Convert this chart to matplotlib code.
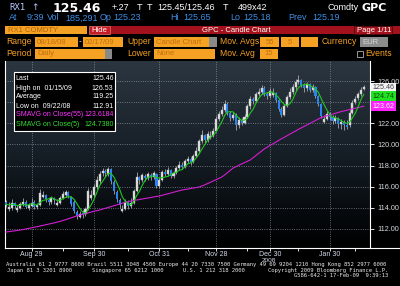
# Bloomberg GPC candle chart of the Euro-Bund future (RX1), redrawn with matplotlib

import numpy as np
import pandas as pd
import matplotlib
matplotlib.use("Agg")
import matplotlib.pyplot as plt
from matplotlib.colors import LinearSegmentedColormap
from matplotlib.patches import Rectangle
from matplotlib.lines import Line2D

W, H = 400, 286

# daily candles, 18 Aug 2008 .. 17 Feb 2009
opens = [114.6, 113.9, 114.0, 114.5, 113.8, 114.0, 114.3, 114.6, 114.0, 114.2,
         114.6, 114.1, 114.3, 115.0, 115.2, 114.7, 114.6, 114.9, 114.3, 114.5,
         114.9, 115.2, 115.5, 115.0, 114.6, 113.6, 113.1, 113.5, 113.4, 113.9,
         114.9, 115.2, 116.0, 116.5, 117.3, 117.5, 117.2, 117.7, 116.4, 115.5,
         114.7, 113.7, 113.9, 114.6, 114.2, 114.5, 115.6, 116.9, 116.6, 117.0,
         116.8, 117.1, 116.9, 117.2, 116.1, 116.6, 117.4, 117.2, 117.6, 117.0,
         117.3, 117.8, 118.1, 117.9, 118.4, 118.6, 118.3, 118.9, 119.4, 120.3,
         120.9, 120.4, 120.6, 120.8, 121.3, 122.4, 122.9, 123.3, 123.8, 123.0,
         122.5, 122.8, 121.8, 122.3, 122.0, 122.6, 123.6, 124.3, 124.1, 124.8,
         125.0, 125.3, 124.8, 124.6, 124.7, 124.9, 124.2, 123.4, 122.8, 123.6,
         124.5, 125.0, 125.4, 125.9, 126.1, 125.6, 125.3, 125.7, 125.2, 125.4,
         124.6, 123.8, 122.1, 122.4, 122.9, 122.6, 122.2, 122.5, 121.9, 122.1,
         121.8, 121.8, 123.0, 124.0, 124.4, 124.8, 125.23]
highs = [114.7, 114.6, 114.8, 114.6, 114.3, 114.6, 114.9, 114.7, 114.5, 114.9,
         114.7, 114.5, 115.8, 115.6, 115.3, 114.9, 115.1, 115.0, 114.8, 115.1,
         115.6, 115.7, 115.6, 115.1, 114.7, 113.8, 113.7, 113.8, 114.1, 115.9,
         115.7, 116.3, 117.0, 117.5, 117.8, 117.7, 117.9, 117.8, 116.6, 115.7,
         114.9, 114.3, 114.8, 114.7, 114.9, 115.8, 117.4, 117.0, 117.3, 117.2,
         117.4, 117.3, 117.5, 117.3, 116.9, 117.6, 117.7, 117.9, 117.7, 117.5,
         118.0, 118.4, 118.3, 118.6, 118.9, 118.8, 119.1, 119.8, 120.5, 121.4,
         121.0, 121.3, 121.3, 121.6, 122.7, 123.2, 123.6, 124.2, 124.0, 123.2,
         123.1, 123.0, 122.6, 122.5, 122.9, 123.8, 124.6, 124.5, 125.0, 125.3,
         125.6, 125.5, 125.0, 125.3, 125.3, 125.0, 124.3, 123.5, 123.8, 124.7,
         125.3, 125.7, 126.2, 126.53, 126.2, 125.8, 125.9, 125.8, 125.7, 125.5,
         124.7, 123.9, 122.8, 123.2, 123.1, 122.8, 122.8, 122.6, 122.4, 122.3,
         122.3, 123.3, 124.2, 124.6, 125.0, 125.4, 125.65]
lows = [114.1, 113.7, 113.8, 114.0, 113.6, 113.9, 114.2, 114.0, 113.8, 114.1,
        113.9, 113.9, 114.2, 114.9, 114.6, 114.3, 114.4, 114.4, 114.2, 114.4,
        114.8, 115.0, 114.9, 114.2, 113.5, 112.91, 113.0, 113.0, 113.2, 113.8,
        114.7, 115.0, 115.8, 116.3, 117.0, 116.9, 117.0, 116.3, 115.3, 114.6,
        114.0, 113.6, 113.8, 113.9, 114.0, 114.4, 115.5, 116.3, 116.4, 116.5,
        116.6, 116.6, 116.7, 115.9, 115.9, 116.5, 117.0, 117.0, 116.8, 116.8,
        117.2, 117.6, 117.7, 117.8, 118.2, 118.1, 118.2, 118.8, 119.2, 120.1,
        120.1, 120.2, 120.5, 120.7, 121.2, 122.2, 122.7, 123.1, 122.8, 122.2,
        122.3, 121.4, 121.6, 121.8, 121.9, 122.5, 123.4, 123.8, 124.0, 124.6,
        124.8, 124.6, 124.3, 124.4, 124.5, 124.0, 123.2, 122.6, 122.7, 123.5,
        124.3, 124.8, 125.2, 125.7, 125.4, 125.0, 125.1, 125.0, 125.0, 124.4,
        123.6, 122.5, 122.0, 122.3, 122.3, 121.9, 122.0, 121.6, 121.5, 121.4,
        121.5, 121.7, 122.9, 123.8, 124.2, 124.6, 125.18]
closes = [114.3, 114.1, 114.5, 114.2, 114.0, 114.4, 114.6, 114.1, 114.3, 114.5,
          114.1, 114.3, 115.4, 115.2, 114.8, 114.6, 114.9, 114.7, 114.5, 114.9,
          115.3, 115.5, 115.1, 114.4, 113.7, 113.2, 113.4, 113.3, 113.9, 115.6,
          115.2, 116.0, 116.6, 117.2, 117.5, 117.3, 117.7, 116.5, 115.6, 114.8,
          114.3, 113.9, 114.6, 114.2, 114.5, 115.6, 116.9, 116.6, 117.1, 116.8,
          117.2, 116.9, 117.3, 116.1, 116.6, 117.4, 117.2, 117.6, 117.0, 117.3,
          117.8, 118.1, 117.9, 118.4, 118.6, 118.3, 118.9, 119.4, 120.3, 120.9,
          120.4, 121.0, 120.8, 121.3, 122.4, 122.9, 123.3, 123.8, 123.0, 122.5,
          122.8, 121.8, 122.3, 122.0, 122.6, 123.6, 124.3, 124.1, 124.8, 125.0,
          125.3, 124.8, 124.6, 125.1, 124.9, 124.2, 123.4, 122.8, 123.6, 124.5,
          125.0, 125.4, 125.9, 126.1, 125.6, 125.3, 125.7, 125.2, 125.4, 124.6,
          123.8, 122.7, 122.4, 122.9, 122.6, 122.2, 122.5, 121.9, 122.1, 121.8,
          121.7, 123.0, 123.95, 124.35, 124.74, 125.19, 125.46]
# last closes before the window, needed for the first 5-day averages
prior_closes = [114.4, 114.2, 114.3, 114.5]
# 55-day moving average as drawn (magenta)
sma55 = [111.71, 111.75, 111.79, 111.82, 111.86, 111.90, 111.95, 112.00, 112.06, 112.11,
         112.17, 112.22, 112.28, 112.34, 112.40, 112.46, 112.52, 112.58, 112.65, 112.71,
         112.80, 112.88, 112.97, 113.06, 113.15, 113.24, 113.32, 113.39, 113.46, 113.53,
         113.60, 113.67, 113.74, 113.80, 113.88, 113.96, 114.04, 114.12, 114.20, 114.28,
         114.36, 114.44, 114.52, 114.59, 114.65, 114.70, 114.74, 114.79, 114.84, 114.89,
         114.93, 114.98, 115.03, 115.08, 115.12, 115.19, 115.26, 115.33, 115.40, 115.48,
         115.55, 115.62, 115.69, 115.74, 115.78, 115.83, 115.88, 115.92, 115.97, 116.07,
         116.18, 116.30, 116.42, 116.55, 116.67, 116.79, 116.92, 117.12, 117.33, 117.55,
         117.77, 117.90, 118.03, 118.16, 118.28, 118.41, 118.53, 118.74, 118.95, 119.16,
         119.37, 119.58, 119.74, 119.90, 120.06, 120.22, 120.38, 120.54, 120.68, 120.83,
         120.98, 121.13, 121.28, 121.43, 121.57, 121.71, 121.85, 121.99, 122.13, 122.27,
         122.41, 122.55, 122.63, 122.71, 122.79, 122.87, 122.95, 123.03, 123.11, 123.17,
         123.24, 123.30, 123.37, 123.43, 123.49, 123.56, 123.62]

date_labels = ["Aug 29", "Sep 30", "Oct 31", "Nov 28", "Dec 30", "Jan 30"]
date_pos = [9, 31, 54, 74, 93, 114]
mid_pos = [20, 43, 64, 85, 103, 123]
price_ticks = [112, 114, 116, 118, 120, 122, 124, 126]
price_labels = ["112.00", "114.00", "116.00", "118.00", "120.00", "122.00", "", "126.00"]

stat_names = ["Last", "High on  01/15/09", "Average", "Low on  09/22/08",
              "SMAVG on Close(55)", "SMAVG on Close(5)"]
stat_values = ["125.46", "126.53", "119.25", "112.91", "123.6184", "124.7380"]
stat_colors = ["white", "white", "white", "white", "#ff33ff", "#33e033"]

ORANGE = "#f5a124"
SANS = "Liberation Sans"

fig = plt.figure(figsize=(4, 2.86), dpi=100, facecolor="black")


def txt(x, y, s, color, size=6.5, weight="normal", family=SANS, ha="left"):
    fig.text(x / W, 1 - y / H, s, color=color, fontsize=size, fontweight=weight,
             family=family, ha=ha, va="center")


def box(x0, y0, x1, y1, color, edge=None, lw=0.0):
    fig.add_artist(Rectangle((x0 / W, 1 - y1 / H), (x1 - x0) / W, (y1 - y0) / H,
                             transform=fig.transFigure, facecolor=color,
                             edgecolor=edge if edge else color, linewidth=lw))


# --- header lines
txt(9, 8, "RX1", "#b8c8ff", 6.5, family="DejaVu Sans Mono")
txt(31, 8, "\u2191", "#b8c8ff", 6.5, family="DejaVu Sans")
txt(53, 8, "125.46", "white", 9, "bold", family="DejaVu Sans")
txt(112, 8, "+.27", "white")
txt(137, 8, "T", "white")
txt(147, 8, "T", "white")
txt(157, 8, "125.45/125.46", "white")
txt(223, 8, "T", "white")
txt(238, 8, "499x42", "white")
txt(327, 8, "Comdty", "white", 6.5)
txt(361, 8, "GPC", "white", 8, "bold", family="DejaVu Sans")

blue = "#3d8fe6"
for x, s in [(9, "At"), (27, "9:39"), (47, "Vol"), (65, "185,291"), (100, "Op"),
             (113, "125.23"), (170, "Hi"), (183, "125.65"), (230, "Lo"),
             (243, "125.18"), (288, "Prev"), (312, "125.19")]:
    txt(x, 18, s, blue)

# --- red title bar
box(5, 26, 87, 34, ORANGE)
txt(8, 30, "RX1 COMDTY", "#b06410", 5.5)
box(110, 26, 400, 34, "#a3121c")
box(89, 26, 110, 34, "#c81c24", "#e87070", 0.5)
txt(99.5, 30, "Hide", "white", 5.5, ha="center")
txt(202, 30, "GPC - Candle Chart", "white", 5.5)
box(354, 26, 392, 34, "#a3121c", "#4a0a0e", 0.6)
txt(357, 30, "Page 1/11", "white", 5.5)

# --- settings rows
for x, y, s in [(6, 42, "Range"), (127, 42, "Upper"), (220, 42, "Mov. Avgs"),
                (322, 42, "Currency"), (6, 54, "Period"), (127, 54, "Lower"),
                (220, 54, "Mov. Avg"), (365, 54, "Events")]:
    txt(x, y, s, ORANGE, 6.2)
field_text = "#c0700f"
box(35, 37, 78, 47, ORANGE)
txt(37, 42, "08/18/08", field_text, 5.5)
txt(79, 42, "-", "white", 6)
box(83, 37, 123, 47, ORANGE)
txt(85, 42, "02/17/09", field_text, 5.5)
box(154, 37, 209, 47, ORANGE)
box(209, 37, 217, 47, "#8a8a8a")
txt(156, 42, "Candle Chart", field_text, 5.5)
box(260, 37, 279, 47, ORANGE)
txt(269.5, 42, "55", field_text, 5.5, ha="center")
box(281, 37, 299, 47, ORANGE)
txt(290, 42, "5", field_text, 5.5, ha="center")
box(301, 37, 318, 47, ORANGE)
box(360, 37, 388, 47, "#8c8c8c")
txt(362, 42, "EUR", "#d8d8d8", 5.5)
box(35, 49, 105, 59, ORANGE)
box(105, 49, 112, 59, "#8a8a8a")
txt(37, 54, "Daily", field_text, 5.5)
box(154, 49, 215, 59, ORANGE)
txt(156, 54, "None", field_text, 5.5)
box(260, 49, 278, 59, ORANGE)
txt(269, 54, "15", field_text, 5.5, ha="center")
box(357, 51, 363, 57, "black", "#b0b0b0", 0.6)

# --- chart
ax = fig.add_axes([5 / W, 1 - 248 / H, 365 / W, 187 / H])
x0, x1, y0, y1 = -0.35, 128.2, 110.2, 127.9
ax.set_xlim(x0, x1)
ax.set_ylim(y0, y1)

bg = LinearSegmentedColormap.from_list(
    "bg", [(0, "#000000"), (0.2, "#070b0f"), (0.55, "#182129"), (1, "#2c3640")])
ax.imshow(np.linspace(1, 0, 256).reshape(-1, 1), extent=[x0, x1, y0, y1],
          aspect="auto", cmap=bg, origin="upper", zorder=0)

idx = np.arange(len(closes))
o = np.array(opens)
c = np.array(closes)
up = c >= o
ax.vlines(idx, lows, highs, color="#a4a8ae", linewidth=0.6, zorder=2)
ax.bar(idx[up], np.maximum(c[up] - o[up], 0.06), bottom=o[up], width=0.72,
       color="#e4e4e4", edgecolor="#b8b8b8", linewidth=0.3, zorder=3)
ax.bar(idx[~up], np.maximum(o[~up] - c[~up], 0.06), bottom=c[~up], width=0.72,
       color="#2a86ee", linewidth=0, zorder=3)

sma5 = pd.Series(prior_closes + closes).rolling(5).mean().to_numpy()[len(prior_closes):]
ax.plot(idx, sma55, color="#d41ed4", linewidth=0.8, zorder=4)
ax.plot(idx, sma5, color="#1fc81f", linewidth=0.8, zorder=4)

ax.set_axisbelow(True)
ax.set_xticks(date_pos)
ax.set_xticklabels(date_labels)
ax.set_xticks(mid_pos, minor=True)
ax.yaxis.tick_right()
ax.set_yticks(price_ticks)
ax.set_yticklabels(price_labels)
ax.grid(True, color="#9aa4ae", linestyle=(0, (1, 2)), linewidth=0.55)
ax.tick_params(axis="x", which="both", colors="white", length=2, width=0.6,
               labelsize=5, labelcolor="#d0d8e8", pad=0.3)
ax.tick_params(axis="y", colors="white", length=3, width=0.6, labelsize=5.2,
               labelcolor="#d8dce0", pad=2)
for lab in ax.get_xticklabels() + ax.get_yticklabels():
    lab.set_family(SANS)
for side in ["left", "bottom", "right"]:
    ax.spines[side].set_color("white")
    ax.spines[side].set_linewidth(0.8)
ax.spines["top"].set_visible(False)
fig.add_artist(Line2D([370 / W, 1], [1 - 247.5 / H] * 2, color="white", linewidth=0.8))
txt(269, 260.5, "2008", "#d0d8e8", 4.6, ha="center")

# price tags on the right axis
for val, dy, face, fg in [(125.46, -0.6, "#f4f4f4", "#404040"),
                          (124.74, -1.4, "#22e022", "#0a4a0a"),
                          (123.62, 0, "#ff22ff", "white")]:
    ax.annotate(f"{val:.2f}", xy=(1.0, val), xycoords=("axes fraction", "data"),
                xytext=(1.6, dy), textcoords="offset points", va="center", ha="left",
                fontsize=5.1, family=SANS, color=fg, annotation_clip=False, zorder=6,
                bbox=dict(boxstyle="square,pad=0.2", facecolor=face, edgecolor="none"))

# statistics legend box
box(14, 72, 115, 131, "black", "white", 0.8)
for i, (name, value, col) in enumerate(zip(stat_names, stat_values, stat_colors)):
    y = 79 + 9 * i
    txt(15.5, y, name, col, 5.0)
    txt(113.5, y, value, col, 5.0, ha="right")

# --- footer
mono = "DejaVu Sans Mono"
txt(6, 264.8, "Australia 61 2 9777 8600 Brazil 5511 3048 4500 Europe 44 20 7330 7500 "
    "Germany 49 69 9204 1210 Hong Kong 852 2977 6000", "#e8e8e8", 3.95, family=mono)
txt(7, 270.2, "Japan 81 3 3201 8900", "#e8e8e8", 3.95, family=mono)
txt(92, 270.2, "Singapore 65 6212 1000", "#e8e8e8", 3.95, family=mono)
txt(183, 270.2, "U.S. 1 212 318 2000", "#e8e8e8", 3.95, family=mono)
txt(268, 270.2, "Copyright 2009 Bloomberg Finance L.P.", "#e8e8e8", 3.95, family=mono)
txt(388, 275.6, "G586-642-1 17-Feb-09  9:39:13", "#e8e8e8", 3.95, family=mono, ha="right")

fig.savefig("out.png", dpi=100, facecolor="black")
